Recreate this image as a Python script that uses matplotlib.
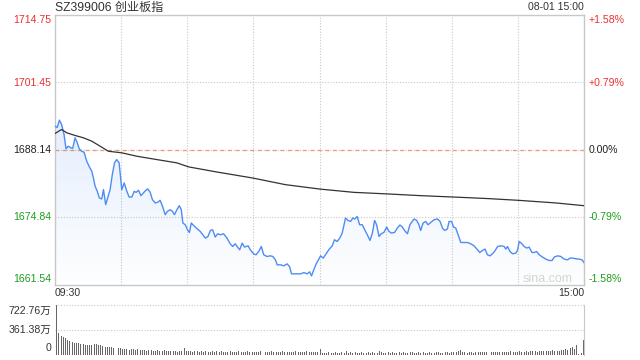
import numpy as np
import matplotlib
matplotlib.use("Agg")
import matplotlib.pyplot as plt
from matplotlib.patches import Polygon

plt.rcParams['font.family'] = ['Liberation Sans', 'Noto Sans CJK SC', 'DejaVu Sans']

# price axis levels and percent labels
prev_close = 1688.14
price_ticks = [1714.75, 1701.45, 1688.14, 1674.84, 1661.54]
pct_ticks = ["+1.58%", "+0.79%", "0.00%", "-0.79%", "-1.58%"]
vol_ticks = ["722.76万", "361.38万", "0"]
vol_max = 722.76

# minutes since 09:30 (trading minutes, lunch removed) and index price
t_price = [0.0, 1.0, 2.0, 3.0, 4.1, 5.0, 6.0, 7.1, 8.0, 9.1, 10.1, 11.0, 12.1, 13.2, 14.4,
           15.6, 16.7, 17.4, 18.2, 19.2, 20.1, 21.2, 22.0, 23.0, 24.0, 25.0, 26.0, 27.0,
           28.0, 29.1, 30.3, 31.4, 32.6, 33.6, 34.9, 35.9, 36.8, 37.9, 39.0, 40.1, 41.2,
           42.1, 43.2, 44.2, 45.5, 46.5, 47.7, 48.8, 50.0, 51.0, 52.3, 53.3, 54.2, 55.3,
           56.4, 57.3, 58.0, 59.1, 60.1, 61.0, 61.8, 63.6, 65.9, 68.2, 69.4, 70.5, 71.5,
           72.7, 73.8, 75.0, 76.5, 78.0, 79.5, 80.6, 81.8, 82.6, 83.8, 84.9, 86.0, 87.6,
           88.6, 90.1, 91.2, 92.4, 93.6, 94.7, 96.2, 97.7, 98.8, 100.0, 100.8, 102.3,
           103.8, 105.3, 106.4, 107.3, 109.1, 111.4, 112.9, 114.4, 115.5, 116.4, 117.4,
           118.5, 119.7, 120.5, 121.7, 122.7, 124.2, 125.8, 126.8, 128.0, 129.2, 130.3,
           131.8, 132.9, 134.1, 135.1, 136.0, 137.1, 138.2, 139.4, 140.5, 141.7, 142.9,
           144.0, 145.0, 145.9, 147.0, 148.0, 149.2, 150.5, 151.5, 152.6, 154.1, 155.3,
           156.5, 157.6, 158.6, 159.9, 161.0, 162.9, 164.1, 165.1, 165.9, 167.0, 168.2,
           169.2, 170.5, 172.0, 173.5, 174.7, 175.8, 176.8, 178.0, 178.8, 179.9, 180.8,
           181.8, 182.9, 184.1, 185.6, 187.1, 188.6, 190.1, 191.7, 192.7, 193.9, 195.1,
           196.2, 197.3, 198.5, 199.7, 200.8, 202.3, 203.8, 204.5, 205.3, 206.4, 207.6,
           209.1, 209.9, 210.6, 211.8, 212.9, 214.0, 215.1, 216.4, 217.4, 218.5, 219.7,
           221.2, 222.7, 224.2, 225.5, 226.5, 228.0, 229.5, 231.0, 232.6, 233.6, 234.9,
           236.4, 237.9, 239.1, 240.0]
price = [1692.74, 1692.49, 1693.93, 1693.08, 1691.10, 1688.28, 1688.79, 1688.48, 1688.34,
         1690.45, 1689.46, 1688.28, 1687.80, 1687.61, 1685.83, 1684.72, 1683.85, 1682.55,
         1680.89, 1679.90, 1678.60, 1678.40, 1680.24, 1677.27, 1678.79, 1680.24, 1683.20,
         1685.51, 1686.16, 1685.51, 1680.24, 1681.56, 1679.90, 1678.79, 1678.79, 1679.90,
         1679.70, 1680.10, 1679.05, 1679.58, 1680.10, 1680.37, 1679.70, 1678.26, 1677.61,
         1677.73, 1678.12, 1676.94, 1675.30, 1675.95, 1676.28, 1675.95, 1675.30, 1676.28,
         1677.07, 1676.28, 1673.66, 1673.32, 1672.33, 1671.80, 1673.66, 1672.87, 1672.00,
         1670.69, 1671.01, 1672.19, 1672.33, 1670.89, 1671.54, 1671.34, 1671.54, 1670.69,
         1669.57, 1669.03, 1669.57, 1669.03, 1668.38, 1669.70, 1668.91, 1669.17, 1668.38,
         1667.59, 1667.39, 1668.04, 1669.03, 1667.39, 1667.06, 1667.19, 1667.06, 1666.40,
         1665.42, 1665.42, 1665.22, 1665.61, 1665.08, 1663.64, 1663.64, 1663.64, 1663.89,
         1663.64, 1664.03, 1663.24, 1664.43, 1665.61, 1666.54, 1667.19, 1666.74, 1667.39,
         1668.38, 1669.17, 1670.36, 1670.02, 1670.69, 1671.68, 1674.64, 1674.17, 1673.97,
         1674.64, 1674.45, 1674.96, 1673.32, 1673.32, 1672.33, 1671.34, 1670.22, 1671.68,
         1674.17, 1673.32, 1671.01, 1671.54, 1671.80, 1672.87, 1672.00, 1671.68, 1671.80,
         1672.67, 1673.26, 1672.87, 1672.19, 1671.54, 1673.32, 1674.45, 1674.17, 1673.32,
         1672.19, 1673.66, 1673.97, 1673.32, 1673.77, 1674.31, 1674.45, 1673.97, 1672.67,
         1672.19, 1672.47, 1673.97, 1673.97, 1672.87, 1672.67, 1671.34, 1669.82, 1669.82,
         1669.82, 1669.57, 1669.17, 1668.38, 1667.85, 1668.24, 1668.52, 1667.39, 1667.19,
         1667.59, 1668.24, 1669.03, 1669.17, 1669.03, 1668.52, 1669.03, 1668.04, 1667.59,
         1667.73, 1668.38, 1670.02, 1669.57, 1669.03, 1668.72, 1668.91, 1667.85, 1667.85,
         1668.04, 1667.39, 1666.94, 1666.54, 1666.27, 1666.27, 1666.94, 1667.19, 1667.06,
         1666.54, 1666.40, 1666.74, 1666.74, 1666.60, 1666.54, 1666.40, 1665.87]

# average price line
t_avg = [0, 3, 5.3, 9.1, 12.9, 16.7, 20.5, 24.2, 30.3, 37.1, 46.2, 55.3, 60.6, 74.2, 89.4,
         104.5, 120.5, 135.6, 150.8, 165.9, 182.3, 197, 210.6, 227.3, 240]
avg = [1691.30, 1692.09, 1691.44, 1690.91, 1690.45, 1689.78, 1688.79, 1687.80, 1687.49,
       1686.82, 1686.16, 1685.51, 1684.72, 1683.65, 1682.55, 1681.22, 1680.33, 1679.70,
       1679.39, 1679.05, 1678.75, 1678.46, 1678.12, 1677.61, 1677.07]

# volume per minute, in 万
volume = [722.76, 323, 280, 260, 241, 217, 202, 193, 178, 178,
          174, 164, 159, 150, 150, 145, 140, 154, 159, 150,
          145, 130, 120, 116, 116, 111, 106, 96, 96, 96,
          87, 92, 82, 77, 87, 92, 72, 82, 77, 68,
          72, 63, 68, 72, 58, 63, 68, 58, 63, 72,
          58, 63, 53, 58, 63, 48, 58, 53, 96, 63,
          53, 58, 48, 53, 58, 43, 53, 48, 58, 43,
          48, 53, 43, 58, 48, 53, 38, 48, 43, 53,
          43, 48, 38, 53, 43, 38, 48, 58, 43, 38,
          48, 38, 43, 53, 38, 43, 48, 38, 53, 43,
          38, 48, 43, 58, 38, 43, 48, 38, 43, 53,
          38, 48, 43, 38, 53, 43, 38, 48, 43, 38,
          87, 34, 29, 34, 38, 29, 34, 43, 29, 34,
          38, 29, 58, 34, 38, 29, 43, 34, 29, 38,
          34, 29, 43, 34, 38, 29, 34, 58, 38, 29,
          34, 43, 29, 38, 34, 29, 43, 34, 38, 29,
          34, 38, 43, 29, 34, 38, 29, 43, 34, 29,
          38, 34, 29, 43, 38, 34, 29, 38, 43, 34,
          38, 43, 48, 58, 72, 43, 38, 34, 38, 43,
          34, 38, 43, 48, 38, 43, 38, 48, 43, 38,
          43, 48, 43, 38, 48, 43, 48, 53, 43, 48,
          48, 53, 48, 43, 53, 48, 53, 58, 53, 48,
          53, 58, 63, 58, 53, 63, 72, 63, 58, 63,
          72, 68, 87, 72, 106, 120, 92, 145, 19, 24,
          217]

RED = "#e93030"
GREEN = "#1c9e1c"
GRID = "#c8c8c8"
BLUE = "#4e8cf4"

W, H = 640, 360
fig = plt.figure(figsize=(6.4, 3.6), dpi=100)


def box(l, t, r, b):
    return [l / W, 1 - b / H, (r - l) / W, (b - t) / H]


def ftext(x, y, s, **kw):
    fig.text(x / W, 1 - y / H, s, **kw)


lo, hi = price_ticks[-1], price_ticks[0]
ax = fig.add_axes(box(55, 14.5, 584, 284.5))

# gradient fill under the price line
verts = np.column_stack([[0] + t_price + [240], [lo] + price + [lo]])
poly = Polygon(verts, closed=True, facecolor='none', edgecolor='none')
ax.add_patch(poly)
grad = np.zeros((256, 1, 4))
grad[..., 0], grad[..., 1], grad[..., 2] = 0.31, 0.55, 0.96
grad[..., 3] = np.linspace(0.24, 0.01, 256).reshape(-1, 1)
im = ax.imshow(grad, extent=[0, 240, lo, hi], aspect='auto', origin='upper', zorder=1)
im.set_clip_path(poly)

for k in range(1, 8):
    ax.axvline(30 * k, color=GRID, lw=0.8, ls=(0, (1, 1.5)), zorder=0)
for p in [price_ticks[1], price_ticks[3]]:
    ax.axhline(p, color=GRID, lw=0.8, ls=(0, (1, 1.5)), zorder=0)
ax.axhline(prev_close, color=GRID, lw=0.8, ls=(0, (1, 1.5)), zorder=0)
ax.axhline(prev_close, color="#ee9966", lw=0.9, ls=(0, (3, 3)), zorder=0)

ax.plot(t_price, price, color=BLUE, lw=1.0, zorder=3)
ax.plot(t_avg, avg, color="#333333", lw=0.9, zorder=3)

ax.set_xlim(0, 240)
ax.set_ylim(lo, hi)
ax.set_xticks([])
ax.set_yticks([])
for s in ax.spines.values():
    s.set_color(GRID)
    s.set_linewidth(1)

ax.text(0.979, 0.02, "sina.com", transform=ax.transAxes, ha='right', va='center',
        fontsize=9, color="#d4d4d4")

# left/right labels
label_y = [20, 82.7, 150, 217.3, 278.5]
colors = [RED, RED, "#222222", GREEN, GREEN]
for p, pc, y, c in zip(price_ticks, pct_ticks, label_y, colors):
    ftext(51, y, f"{p:.2f}", ha='right', va='center', fontsize=7.6, color=c)
    ftext(589, y, pc, ha='left', va='center', fontsize=7.6, color=c)

ftext(55, 7.5, "SZ399006 创业板指", ha='left', va='center', fontsize=8.7, color="#333333")
ftext(584, 7.5, "08-01 15:00", ha='right', va='center', fontsize=7.6, color="#333333")
ftext(55, 293.5, "09:30", ha='left', va='center', fontsize=7.6, color="#333333")
ftext(584, 293.5, "15:00", ha='right', va='center', fontsize=7.6, color="#333333")

# volume panel
vax = fig.add_axes(box(55, 305, 584, 355))
vax.bar(np.arange(len(volume)), volume, width=0.45, color="#666666", zorder=2)
vax.set_xlim(-0.8, 240.3)
vax.set_ylim(0, vol_max)
vax.axhline(vol_max, color=GRID, lw=0.8, ls=(0, (1, 1.5)), zorder=0, clip_on=False)
vax.axhline(vol_max / 2, color=GRID, lw=0.8, ls=(0, (1, 1.5)), zorder=0)
vax.set_xticks([])
vax.set_yticks([])
for name, s in vax.spines.items():
    s.set_visible(name == 'right')
    s.set_color(GRID)

for s, y in zip(vol_ticks, [311, 330, 348]):
    ftext(51, y, s, ha='right', va='center', fontsize=7.6, color="#333333")

fig.savefig("out.png", dpi=100)
